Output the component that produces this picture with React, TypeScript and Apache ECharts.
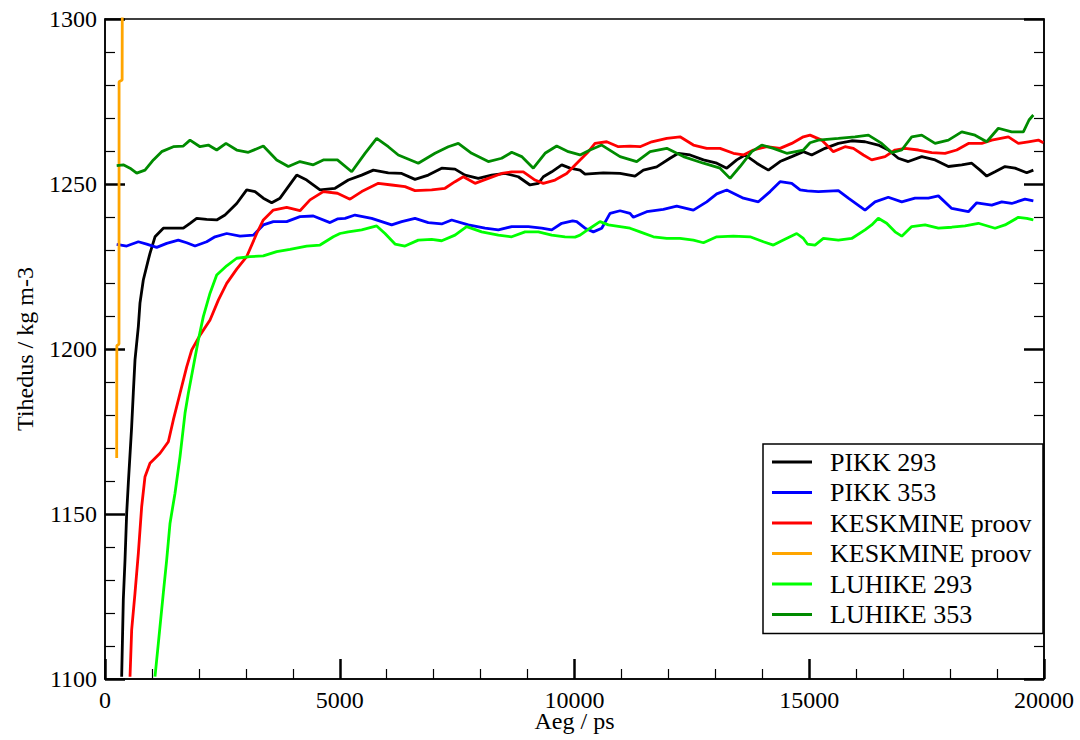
import React, { useEffect, useRef } from "react";
import * as echarts from "echarts";

const FONT = "Liberation Serif";

const xTicks = { min: 0, max: 20000, interval: 5000 };
const yTicks = { min: 1100, max: 1300, interval: 50 };

const seriesNames = [
  "PIKK 293",
  "PIKK 353",
  "KESKMINE proov",
  "KESKMINE proov ",
  "LUHIKE 293",
  "LUHIKE 353",
];
const seriesColors = ["#000000", "#0000ff", "#ff0000", "#ffa500", "#00ff00", "#008b00"];

const pikk293: number[][] = [
  [355, 1100.7], [390, 1124], [426, 1136], [462, 1150.3], [497, 1159.4], [568, 1176.5], [603, 1186.7],
  [639, 1196.7], [710, 1206.8], [745, 1213.9], [816, 1220.9], [922, 1227], [958, 1229], [1065, 1234],
  [1242, 1236.6], [1455, 1236.6], [1668, 1236.6], [1811, 1238.1], [1953, 1239.6], [2166, 1239.3],
  [2379, 1239.1], [2556, 1240.6], [2805, 1244.1], [3018, 1248.2], [3195, 1247.7], [3372, 1245.7],
  [3550, 1244.3], [3728, 1245.7], [3905, 1249.2], [4083, 1252.7], [4296, 1251.2], [4580, 1248.2],
  [4900, 1248.7], [5182, 1251.2], [5467, 1252.7], [5715, 1254.2], [6034, 1253.4], [6319, 1253.2],
  [6603, 1251.4], [6886, 1252.7], [7171, 1254.8], [7455, 1254.5], [7668, 1252.7], [7951, 1251.7],
  [8236, 1252.7], [8520, 1253.2], [8803, 1252.2], [9053, 1249.7], [9230, 1250.2], [9336, 1252.2],
  [9515, 1253.7], [9728, 1255.8], [9905, 1254.8], [10118, 1254.2], [10224, 1253], [10614, 1253.4],
  [10970, 1253.2], [11289, 1252.4], [11467, 1254.2], [11751, 1255.2], [12035, 1257.8], [12212, 1259.3],
  [12461, 1258.8], [12746, 1257.3], [13030, 1256.3], [13243, 1254.8], [13456, 1257.3], [13633, 1258.8],
  [13882, 1256.3], [14130, 1254.2], [14378, 1256.8], [14627, 1258.3], [14875, 1259.8], [15052, 1258.8],
  [15336, 1260.8], [15620, 1262.3], [15904, 1263.1], [16188, 1262.8], [16471, 1261.8], [16684, 1260.3],
  [16897, 1257.8], [17110, 1256.8], [17396, 1258.3], [17680, 1257.3], [17964, 1255.3], [18248, 1255.8],
  [18461, 1256.3], [18638, 1254.2], [18780, 1252.4], [18957, 1253.7], [19170, 1255.3], [19383, 1254.8],
  [19632, 1253.4], [19773, 1254.2],
];

const pikk353: number[][] = [
  [249, 1231.7], [462, 1231.2], [710, 1232.5], [888, 1231.8], [1101, 1230.8], [1314, 1232], [1561, 1233],
  [1740, 1232.2], [1917, 1231.2], [2166, 1232.5], [2343, 1234], [2592, 1235], [2876, 1234.2],
  [3159, 1234.5], [3372, 1237.6], [3585, 1238.6], [3870, 1238.6], [4153, 1240.1], [4437, 1240.3],
  [4793, 1238.3], [4950, 1239.4], [5112, 1239.6], [5325, 1240.6], [5680, 1239.6], [6106, 1237.6],
  [6319, 1238.6], [6603, 1239.6], [6886, 1238.3], [7171, 1237.9], [7384, 1239.1], [7739, 1237.6],
  [8094, 1236.6], [8378, 1236.1], [8662, 1237.1], [9017, 1237.1], [9301, 1236.6], [9515, 1236.1],
  [9728, 1238.1], [9960, 1238.8], [10047, 1238.6], [10224, 1236.6], [10402, 1235.5], [10580, 1236.6],
  [10757, 1241.1], [10970, 1241.9], [11183, 1241.1], [11254, 1239.9], [11538, 1241.6], [11893, 1242.3],
  [12177, 1243.3], [12532, 1242.1], [12816, 1244.6], [13030, 1247], [13243, 1248.2], [13598, 1245.7],
  [13917, 1244.6], [14166, 1247.7], [14378, 1250.7], [14627, 1250.2], [14805, 1248.2], [14960, 1247.9],
  [15194, 1247.7], [15620, 1248], [15833, 1245.7], [16188, 1242.1], [16401, 1244.6], [16684, 1246],
  [16970, 1244.6], [17253, 1245.7], [17538, 1245.7], [17751, 1246.4], [18035, 1242.6], [18390, 1241.6],
  [18567, 1244.3], [18887, 1243.6], [19100, 1244.6], [19312, 1244.1], [19596, 1245.4], [19773, 1244.9],
];

const keskmine: number[][] = [
  [533, 1100.7], [568, 1114.9], [639, 1126], [710, 1138.1], [781, 1152.2], [852, 1161.3], [958, 1165.4],
  [1172, 1168.4], [1349, 1171.9], [1455, 1178.5], [1598, 1186.6], [1740, 1194.6], [1847, 1199.7],
  [2024, 1204.2], [2237, 1208.8], [2414, 1214.8], [2592, 1219.9], [2805, 1224.2], [3018, 1228],
  [3231, 1235], [3372, 1239.1], [3585, 1242.1], [3870, 1242.9], [4153, 1241.9], [4367, 1245.2],
  [4650, 1247.7], [4950, 1247.2], [5219, 1245.4], [5467, 1247.7], [5822, 1250.2], [6106, 1249.7],
  [6390, 1249.2], [6603, 1248], [6958, 1248.2], [7242, 1248.7], [7455, 1250.7], [7632, 1252.2],
  [7881, 1250.2], [8164, 1251.7], [8449, 1253.2], [8662, 1253.7], [8910, 1253.7], [9159, 1251.2],
  [9336, 1250.2], [9585, 1251.2], [9834, 1253.2], [9960, 1255], [10118, 1257.3], [10295, 1259.8],
  [10437, 1262.3], [10686, 1262.8], [10934, 1261.3], [11183, 1261.5], [11396, 1261.3], [11645, 1262.8],
  [11965, 1263.8], [12248, 1264.3], [12532, 1261.8], [12816, 1260.8], [13100, 1260.8], [13384, 1259.3],
  [13598, 1258.8], [13811, 1260.3], [14094, 1261.3], [14378, 1260.8], [14627, 1262.3], [14875, 1264.3],
  [15017, 1264.8], [15265, 1263.3], [15513, 1259.8], [15762, 1261.3], [15940, 1260.8], [16153, 1258.8],
  [16330, 1257.3], [16614, 1258.3], [16827, 1260.3], [17040, 1260.8], [17324, 1260.3], [17608, 1259.5],
  [17892, 1259.3], [18141, 1260.3], [18390, 1262.3], [18674, 1262.3], [18887, 1263.3], [19241, 1264.3],
  [19454, 1262.3], [19667, 1262.8], [19880, 1263.3], [19986, 1262.5],
];

const keskmineShort: number[][] = [
  [249, 1167], [252, 1201], [298, 1201.5], [300, 1281], [365, 1281.5], [372, 1330],
];

const luhike293: number[][] = [
  [1065, 1100.7], [1136, 1110.8], [1242, 1126], [1314, 1136.1], [1385, 1147.2], [1491, 1156.3],
  [1598, 1167.4], [1704, 1180.5], [1775, 1186.6], [1881, 1194.6], [1988, 1202.7], [2094, 1209.8],
  [2237, 1216.9], [2379, 1222.4], [2592, 1225.2], [2805, 1227.5], [3088, 1228], [3372, 1228.2],
  [3657, 1229.5], [3940, 1230.2], [4296, 1231.2], [4580, 1231.5], [4863, 1234], [5005, 1235],
  [5182, 1235.5], [5467, 1236.1], [5787, 1237.3], [5964, 1235], [6177, 1231.8], [6390, 1231.2],
  [6673, 1233], [6958, 1233.2], [7171, 1232.8], [7455, 1234.5], [7703, 1237.1], [8023, 1235.5],
  [8378, 1234.5], [8662, 1234], [8946, 1235.5], [9230, 1235.5], [9515, 1234.5], [9798, 1234],
  [10011, 1233.9], [10118, 1234.5], [10331, 1236.6], [10543, 1238.6], [10721, 1237.6], [10970, 1237.1],
  [11183, 1236.6], [11396, 1235.5], [11680, 1234], [11965, 1233.5], [12248, 1233.5], [12532, 1233],
  [12746, 1232.2], [13030, 1234], [13384, 1234.2], [13740, 1234], [14024, 1232.5], [14236, 1231.5],
  [14449, 1233], [14733, 1235], [14875, 1233.5], [14960, 1231.8], [15123, 1231.5], [15301, 1233.5],
  [15620, 1233], [15904, 1233.5], [16188, 1236.1], [16330, 1237.6], [16471, 1239.6], [16649, 1238.1],
  [16827, 1235.5], [16970, 1234.2], [17183, 1237.1], [17467, 1237.6], [17751, 1236.6], [18035, 1236.9],
  [18318, 1237.3], [18602, 1238.1], [18957, 1236.6], [19170, 1237.6], [19454, 1239.9], [19632, 1239.6],
  [19773, 1239.1],
];

const luhike353: number[][] = [
  [249, 1255.6], [390, 1255.8], [533, 1254.8], [675, 1253.3], [852, 1254.2], [1030, 1257.3],
  [1207, 1259.8], [1455, 1261.3], [1668, 1261.5], [1811, 1263.3], [2024, 1261.3], [2201, 1261.8],
  [2379, 1260.3], [2577, 1262.3], [2805, 1260.3], [3053, 1259.6], [3372, 1261.5], [3657, 1257.3],
  [3905, 1255.3], [4153, 1256.8], [4437, 1255.8], [4650, 1257.3], [4950, 1257.3], [5255, 1253.7],
  [5538, 1259.3], [5787, 1263.8], [6034, 1261.3], [6247, 1258.8], [6673, 1256.3], [7029, 1259.3],
  [7312, 1261.3], [7525, 1262.3], [7810, 1259.3], [8164, 1256.8], [8449, 1257.8], [8662, 1259.6],
  [8875, 1258.3], [9123, 1254.8], [9372, 1259.3], [9621, 1261.5], [9869, 1259.8], [10118, 1258.8],
  [10331, 1260.3], [10580, 1261.8], [10970, 1258.3], [11325, 1256.8], [11610, 1259.8], [11965, 1260.8],
  [12320, 1258.3], [12746, 1256.3], [13100, 1254.8], [13313, 1251.7], [13526, 1255.3], [13775, 1259.8],
  [13988, 1261.8], [14236, 1260.8], [14520, 1259.3], [14875, 1260.3], [15017, 1262.5], [15194, 1263.3],
  [15620, 1263.8], [15975, 1264.3], [16260, 1264.8], [16544, 1262.3], [16757, 1259.5], [16970, 1260.3],
  [17183, 1264.3], [17396, 1264.8], [17680, 1262.3], [17964, 1263.3], [18248, 1265.8], [18531, 1264.8],
  [18780, 1262.8], [19028, 1266.9], [19312, 1265.8], [19560, 1265.8], [19681, 1269.4], [19773, 1270.9],
];

const seriesData = [pikk293, pikk353, keskmine, keskmineShort, luhike293, luhike353];

export default function App() {
  const ref = useRef<HTMLDivElement>(null);

  useEffect(() => {
    document.body.style.margin = "0";
    if (!ref.current) return;
    const chart = echarts.init(ref.current, undefined, { renderer: "svg" });

    const tickCommon = {
      axisLine: { show: true, onZero: false, lineStyle: { color: "#000", width: 1.5 } },
      axisTick: { show: true, inside: true, length: 20, lineStyle: { color: "#000", width: 2.5 } },
      minorTick: { show: true, splitNumber: 5, length: 10, lineStyle: { color: "#000", width: 1.2 } },
      splitLine: { show: false },
      minorSplitLine: { show: false },
    };

    const labelStyle = {
      fontFamily: FONT,
      fontSize: 24,
      color: "#000",
      formatter: (v: number) => "{t|" + String(v) + "}",
      rich: { t: { fontFamily: FONT, fontSize: 24, color: "#000" } },
    };

    chart.setOption({
      animation: false,
      backgroundColor: "#ffffff",
      textStyle: { fontFamily: FONT },
      grid: {
        left: 105,
        right: 36,
        top: 19,
        bottom: 61,
        containLabel: false,
        outerBoundsMode: "none",
        show: true,
        borderColor: "#000",
        borderWidth: 1.5,
        backgroundColor: "transparent",
      },
      legend: {
        orient: "vertical",
        left: 763,
        top: 444,
        data: seriesNames,
        icon: "rect",
        itemWidth: 40,
        itemHeight: 3,
        itemGap: 4.5,
        itemStyle: { borderWidth: 0 },
        padding: [5, 5, 6, 9],
        borderColor: "#000",
        borderWidth: 1.5,
        backgroundColor: "#fff",
        textStyle: { fontFamily: FONT, fontSize: 26, color: "#000", lineHeight: 26, padding: [0, 0, 0, 13] },
        selectedMode: false,
      },
      xAxis: {
        type: "value",
        min: xTicks.min,
        max: xTicks.max,
        interval: xTicks.interval,
        name: "Aeg / ps",
        nameLocation: "middle",
        nameGap: 30,
        nameMoveOverlap: false,
        nameTextStyle: { fontFamily: FONT, fontSize: 24, color: "#000" },
        axisLabel: { ...labelStyle, margin: 9 },
        ...tickCommon,
      },
      yAxis: [
        {
          type: "value",
          min: yTicks.min,
          max: yTicks.max,
          interval: yTicks.interval,
          name: "Tihedus / kg m-3",
          nameLocation: "middle",
          nameGap: 68,
          nameTextStyle: { fontFamily: FONT, fontSize: 24, color: "#000" },
          axisLabel: { ...labelStyle, margin: 8 },
          ...tickCommon,
        },
        {
          type: "value",
          position: "right",
          min: yTicks.min,
          max: yTicks.max,
          interval: yTicks.interval,
          axisLabel: { show: false },
          ...tickCommon,
        },
      ],
      series: seriesNames.map((name, i) => ({
        name,
        type: "line",
        data: seriesData[i],
        showSymbol: false,
        symbol: "none",
        clip: true,
        lineStyle: { color: seriesColors[i], width: 2.8 },
        itemStyle: { color: seriesColors[i] },
        z: 2,
      })),
    });

    return () => chart.dispose();
  }, []);

  return <div ref={ref} style={{ width: 1080, height: 740 }} />;
}
